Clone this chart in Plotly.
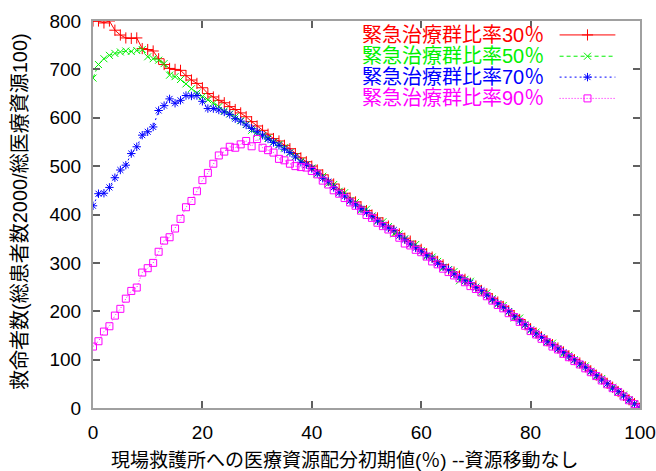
import plotly.graph_objects as go

x_vals = list(range(0, 101))

red_30 = [800, 800, 796, 800, 781, 771, 765, 764, 765, 743,
          741, 738, 722, 710, 702, 700, 698, 687, 678, 671,
          662, 650, 643, 636, 631, 623, 617, 610, 602, 592,
          583, 574, 566, 557, 552, 543, 536, 526, 517, 509,
          500, 492, 482, 471, 463, 452, 444, 434, 426, 416,
          408, 399, 393, 383, 376, 367, 360, 351, 345, 335,
          328, 319, 312, 303, 296, 287, 281, 273, 266, 258,
          252, 243, 236, 226, 219, 210, 201, 191, 183, 172,
          164, 155, 147, 139, 131, 124, 116, 108, 100, 93,
          85, 77, 68, 60, 51, 43, 34, 26, 17, 9, 0]

green_50 = [682, 710, 722, 729, 733, 736, 738, 737, 739, 741,
            726, 722, 719, 712, 688, 685, 679, 670, 660, 651,
            644, 637, 630, 623, 614, 608, 602, 594, 586, 574,
            567, 562, 558, 550, 545, 538, 528, 520, 510, 503,
            496, 484, 479, 464, 462, 448, 445, 429, 425, 409,
            411, 397, 386, 385, 375, 360, 360, 350, 339, 338,
            325, 313, 312, 303, 290, 286, 282, 263, 266, 262,
            250, 239, 238, 226, 215, 212, 199, 186, 186, 173,
            161, 157, 146, 136, 134, 123, 112, 109, 100, 90,
            87, 76, 65, 61, 50, 43, 33, 27, 17, 9, 0]

blue_70 = [418, 443, 444, 456, 476, 492, 502, 526, 540, 564,
           571, 581, 615, 625, 639, 630, 636, 646, 645, 646,
           634, 619, 619, 616, 612, 607, 598, 593, 585, 578,
           571, 564, 556, 549, 543, 535, 528, 519, 508, 503,
           495, 485, 475, 468, 456, 445, 438, 428, 420, 412,
           404, 396, 387, 379, 372, 368, 356, 348, 339, 331,
           324, 315, 309, 299, 292, 286, 277, 270, 263, 259,
           249, 243, 233, 224, 216, 208, 200, 189, 180, 172,
           162, 153, 146, 137, 130, 122, 115, 106, 99, 91,
           84, 75, 67, 58, 50, 41, 34, 25, 16, 8, 0]

magenta_90 = [127, 138, 158, 169, 191, 205, 226, 242, 249, 280,
              289, 300, 323, 346, 353, 371, 391, 415, 428, 448,
              471, 486, 505, 522, 530, 540, 538, 545, 552, 541,
              556, 538, 533, 528, 515, 512, 505, 500, 498, 497,
              490, 483, 470, 462, 450, 443, 434, 425, 418, 408,
              399, 393, 383, 376, 369, 362, 352, 340, 336, 327,
              322, 313, 303, 297, 288, 281, 274, 268, 260, 252,
              246, 239, 231, 222, 213, 206, 196, 188, 178, 170,
              159, 152, 143, 136, 127, 121, 112, 105, 97, 90,
              82, 74, 66, 57, 49, 41, 33, 24, 16, 8, 0]

series_names = ["緊急治療群比率30％", "緊急治療群比率50％",
                "緊急治療群比率70％", "緊急治療群比率90％"]
series_data = [red_30, green_50, blue_70, magenta_90]
colors = ["#ff0000", "#00f000", "#0000ff", "#ff00ff"]
dashes = ["solid", "4px,3px", "2px,3px", "1px,2px"]
symbols = ["cross-thin-open", "x-thin-open", "asterisk-open", "square-open"]
msizes = [8, 7, 7, 7]

x_ticks = [0, 20, 40, 60, 80, 100]
y_ticks = [0, 100, 200, 300, 400, 500, 600, 700, 800]

x_title = "現場救護所への医療資源配分初期値(％) --資源移動なし"
y_title = "救命者数(総患者数2000/総医療資源100)"

FONT = "Liberation Sans, Arial, Noto Sans CJK JP, sans-serif"

fig = go.Figure()
for name, ys, c, d, s, ms in zip(series_names, series_data, colors, dashes, symbols, msizes):
    fig.add_trace(go.Scatter(
        x=x_vals, y=ys, mode="lines+markers", name=name,
        line=dict(color=c, width=1, dash=d),
        marker=dict(symbol=s, size=ms, color=c, line=dict(color=c, width=1)),
        showlegend=False,
    ))

# custom gnuplot-style key (text left, sample right) on an overlay axis pair
key_rows = [0.964, 0.909, 0.855, 0.800]
for name, c, d, s, ms, ky in zip(series_names, colors, dashes, symbols, msizes, key_rows):
    fig.add_trace(go.Scatter(
        x=[0.853, 0.955], y=[ky, ky], mode="lines", xaxis="x2", yaxis="y2",
        line=dict(color=c, width=1, dash=d), showlegend=False, hoverinfo="skip",
    ))
    fig.add_trace(go.Scatter(
        x=[0.904], y=[ky], mode="markers", xaxis="x2", yaxis="y2",
        marker=dict(symbol=s, size=ms, color=c, line=dict(color=c, width=1)),
        showlegend=False, hoverinfo="skip",
    ))
    fig.add_annotation(
        xref="paper", yref="paper", x=0.828, y=ky, xanchor="right", yanchor="middle",
        text=name, showarrow=False, font=dict(family=FONT, size=20, color=c),
    )

fig.add_annotation(
    xref="paper", yref="paper", x=0.461, y=-0.136, xanchor="center", yanchor="middle",
    text=x_title, showarrow=False, font=dict(family=FONT, size=19, color="#000"),
)
fig.add_annotation(
    xref="paper", yref="paper", x=-0.1335, y=0.509, xanchor="center", yanchor="middle",
    text=y_title, textangle=-90, showarrow=False, font=dict(family=FONT, size=20, color="#000"),
)

axis_common = dict(
    showgrid=False, zeroline=False, showline=True, linecolor="#a0a0a0", linewidth=2,
    mirror="ticks", ticks="inside", ticklen=7, tickwidth=1.5, tickcolor="#606060",
    tickfont=dict(family=FONT, size=19, color="#000"), automargin=False,
)

fig.update_layout(
    width=656, height=471,
    margin=dict(l=93, r=16, t=21, b=63, autoexpand=False),
    paper_bgcolor="white", plot_bgcolor="white",
    xaxis=dict(range=[0, 100], tickvals=x_ticks, ticklabelstandoff=6, **axis_common),
    yaxis=dict(range=[0, 800], tickvals=y_ticks, ticklabelstandoff=6, **axis_common),
    xaxis2=dict(range=[0, 1], overlaying="x", visible=False, fixedrange=True),
    yaxis2=dict(range=[0, 1], overlaying="y", visible=False, fixedrange=True),
    showlegend=False,
)

fig.write_html(
    "out.html",
    config={"displayModeBar": False},
    post_script="document.body.style.margin='0';document.body.style.padding='0';document.body.style.overflow='hidden';",
)
